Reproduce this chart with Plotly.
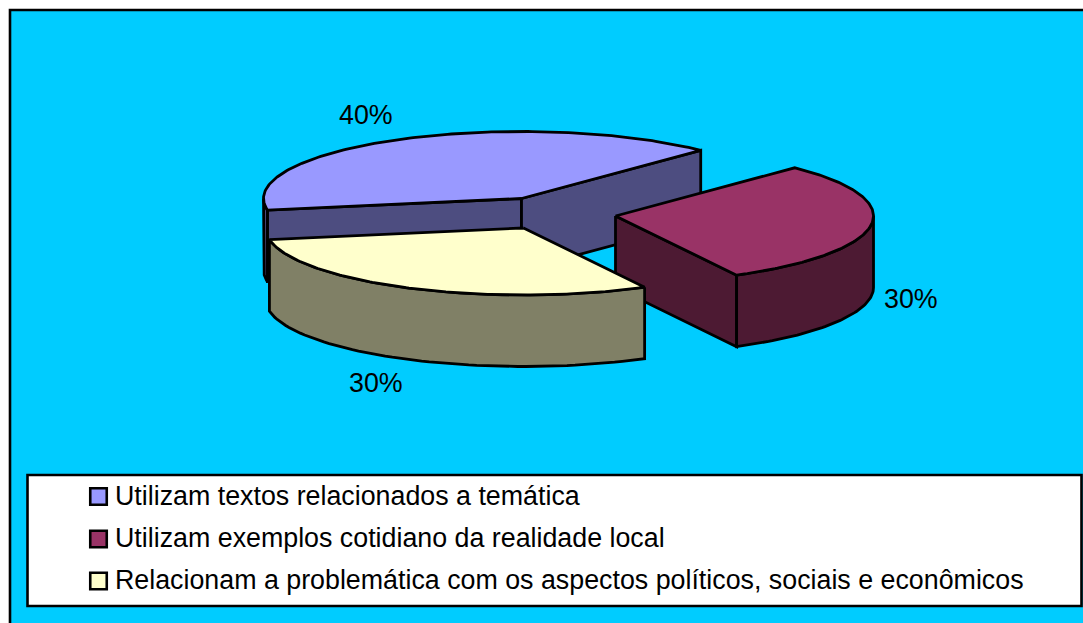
import numpy as np
import plotly.graph_objects as go

categories = [
    "Utilizam textos relacionados a temática",
    "Utilizam exemplos cotidiano da realidade local",
    "Relacionam a problemática com os aspectos políticos, sociais e econômicos",
]
values = [40, 30, 30]
top_colors = ["#9999FF", "#993366", "#FFFFCC"]
wall_colors = ["#4D4D80", "#4D1A33", "#808066"]
centers = [(521.5, 198.5), (615.5, 216), (523.5, 228)]
label_pos = [(365.5, 114.5), (910.5, 298.5), (375.5, 382.5)]

START_DEG = -100.0
RX, RY, DEPTH = 258.0, 67.0, 71.5
LINE = 2.8
FONT = "Liberation Sans, Arial, sans-serif"
FS = 26.8


def pt(c, deg, dz=0.0):
    t = np.radians(deg)
    return c[0] + RX * np.sin(t), c[1] - RY * np.cos(t) + dz


def poly(fig, xs, ys, color):
    fig.add_trace(go.Scatter(
        x=list(xs), y=list(ys), mode="lines", fill="toself", fillcolor=color,
        line=dict(color="black", width=LINE, shape="linear"),
        hoverinfo="skip", showlegend=False))


fig = go.Figure()
total = sum(values)
edges = START_DEG + np.concatenate([[0], np.cumsum(values)]) * 360.0 / total
spans = [(edges[i], edges[i + 1]) for i in range(len(values))]

# draw back-to-front: first slice, second slice, third slice
for i in [0, 1, 2]:
    c, (a0, a1) = centers[i], spans[i]
    wall, top = wall_colors[i], top_colors[i]
    # cut faces (visible when the radius points to the back)
    for a in (a0, a1):
        if np.cos(np.radians(a)) > 0 or (i == 0) or (i == 1 and a == a1):
            if i == 1 and a == a0:
                continue
            x, y = pt(c, a)
            poly(fig, [c[0], x, x, c[0], c[0]],
                 [c[1], y, y + DEPTH, c[1] + DEPTH, c[1]], wall)
    # outer curved wall: only the portion facing the viewer
    ts = []
    for lo, hi in [(max(a0, 90), min(a1, 270)), (max(a0, -270), min(a1, -90))]:
        if hi > lo:
            ts.append(np.linspace(lo, hi, 60))
    for arc in ts:
        ox, oy = pt(c, arc)
        ux, uy = pt(c, arc[::-1], DEPTH)
        poly(fig, np.r_[ox, ux, ox[0]], np.r_[oy, uy, oy[0]], wall)
    # top face
    arc = np.linspace(a0, a1, 160)
    ox, oy = pt(c, arc)
    poly(fig, np.r_[c[0], ox, c[0]], np.r_[c[1], oy, c[1]], top)

# legend swatches
swatch_x = [98.5, 98.5, 98.5]
swatch_y = [496.5, 539, 581]
fig.add_trace(go.Scatter(
    x=swatch_x, y=swatch_y, mode="markers",
    marker=dict(symbol="square", size=16.5, color=top_colors,
                line=dict(color="black", width=2.6)),
    hoverinfo="skip", showlegend=False))

annotations = []
for v, (x, y) in zip(values, label_pos):
    annotations.append(dict(x=x, y=y, text=f"{round(100 * v / total)}%", showarrow=False,
                            xanchor="center", yanchor="middle",
                            font=dict(family=FONT, size=FS, color="black")))
for name, y in zip(categories, swatch_y):
    annotations.append(dict(x=112.5, y=y - 1, text=name, showarrow=False,
                            xanchor="left", yanchor="middle",
                            font=dict(family=FONT, size=FS, color="black")))

shapes = [
    dict(type="rect", x0=10, y0=10, x1=1100, y1=640, layer="below",
         fillcolor="#00CCFF", line=dict(color="black", width=2.6)),
    dict(type="rect", x0=27.5, y0=475, x1=1081.5, y1=606, layer="below",
         fillcolor="white", line=dict(color="black", width=2.6)),
]

fig.update_layout(
    width=1083, height=623, autosize=False,
    margin=dict(l=0, r=0, t=0, b=0, pad=0),
    paper_bgcolor="white", plot_bgcolor="rgba(0,0,0,0)",
    xaxis=dict(range=[0, 1083], visible=False, fixedrange=True),
    yaxis=dict(range=[623, 0], visible=False, fixedrange=True),
    showlegend=False, shapes=shapes, annotations=annotations,
)
fig.write_html("out.html", config={"displayModeBar": False},
               post_script="document.body.style.margin='0';document.body.style.overflow='hidden';")
